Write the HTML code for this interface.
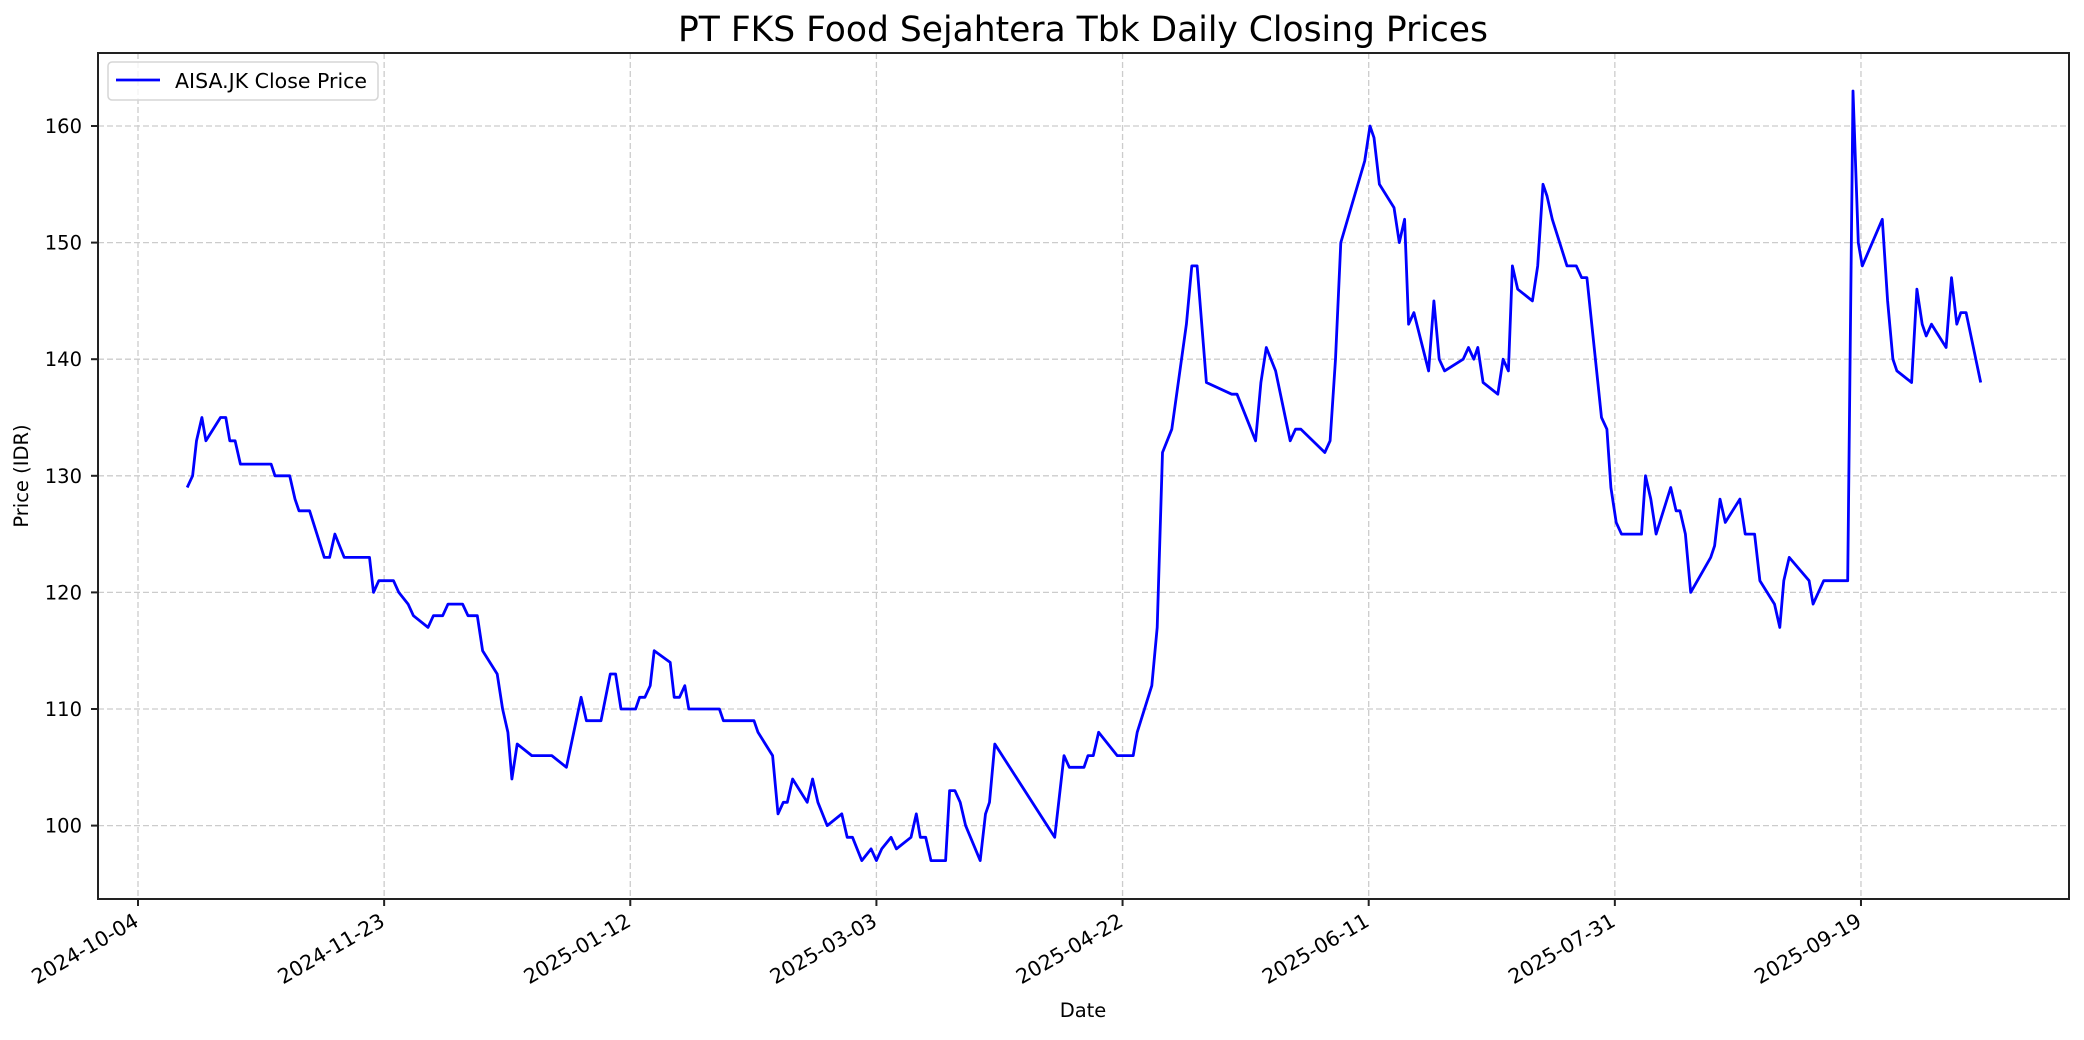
<!DOCTYPE html>
<html><head><meta charset="utf-8"><style>
body{margin:0;background:#fff;}
svg text{font-family:"DejaVu Sans","Liberation Sans",sans-serif;fill:#000;}
</style></head><body>
<svg id="s" width="2084" height="1035" xmlns="http://www.w3.org/2000/svg">
<rect width="2084" height="1035" fill="#fff"/>
<g id="grid" stroke="#cccccc" stroke-width="1.3" stroke-dasharray="6,3"></g>
<g id="ticks"></g>
<polyline id="line" fill="none" stroke="#0000ff" stroke-width="2.8" stroke-linejoin="round"/>
<rect x="98" y="53" width="1971" height="846" fill="none" stroke="#222" stroke-width="2"/>
<text x="1083" y="41" font-size="34.5" text-anchor="middle">PT FKS Food Sejahtera Tbk Daily Closing Prices</text>
<text x="1083" y="1017" font-size="19.5" text-anchor="middle">Date</text>
<text x="28" y="476" font-size="19.5" text-anchor="middle" transform="rotate(-90 28 476)">Price (IDR)</text>
<rect x="108" y="62" width="270" height="38" rx="4" fill="#fff" fill-opacity="0.8" stroke="#d5d5d5" stroke-width="1.5"/>
<line x1="116" y1="80" x2="160" y2="80" stroke="#0000ff" stroke-width="2.8"/>
<text x="175" y="88" font-size="20.5">AISA.JK Close Price</text>
</svg>
<script>
var d=[141,129,145,130,148,133,152,135,155,133,166,135,170,135,173,133,177,133,181,131,204,131,207,130,218,130,222,128,225,127,233,127,244,123,248,123,252,125,259,123,278,123,281,120,285,121,296,121,300,120,307,119,311,118,322,117,326,118,333,118,337,119,348,119,352,118,359,118,363,115,374,113,378,110,382,108,385,104,389,107,400,106,415,106,426,105,437,111,441,109,452,109,459,113,463,113,467,110,478,110,481,111,485,111,489,112,492,115,504,114,507,111,511,111,515,112,518,110,541,110,544,109,567,109,570,108,581,106,585,101,589,102,592,102,596,104,607,102,611,104,615,102,622,100,633,101,637,99,641,99,648,97,655,98,659,97,663,98,670,99,674,98,685,99,689,101,692,99,696,99,700,97,711,97,714,103,718,103,722,102,726,100,737,97,741,101,744,102,748,107,793,99,796,102,800,106,804,105,815,105,818,106,822,106,826,108,840,106,852,106,855,108,866,112,870,117,874,132,881,134,892,143,896,148,900,148,907,138,926,137,930,137,944,133,948,138,952,141,959,139,970,133,974,134,978,134,996,132,1000,133,1004,140,1008,150,1026,157,1030,160,1033,159,1037,155,1048,153,1052,150,1056,152,1059,143,1063,144,1074,139,1078,145,1082,140,1086,139,1100,140,1104,141,1108,140,1111,141,1115,138,1126,137,1130,140,1134,139,1137,148,1141,146,1152,145,1156,148,1160,155,1163,154,1167,152,1178,148,1185,148,1189,147,1193,147,1204,135,1208,134,1211,129,1215,126,1219,125,1234,125,1237,130,1241,128,1245,125,1256,129,1260,127,1263,127,1267,125,1271,120,1286,123,1289,124,1293,128,1297,126,1308,128,1312,125,1319,125,1323,121,1334,119,1338,117,1341,121,1345,123,1360,121,1363,119,1371,121,1389,121,1393,163,1397,150,1400,148,1415,152,1419,145,1423,140,1426,139,1437,138,1441,146,1445,143,1448,142,1452,143,1463,141,1467,147,1471,143,1474,144,1478,144,1489,138];
function X(x){return 138+(x-104)*1.3305;}
function Y(p){return 825.6-(p-100)*11.66;}
var pts=[];for(var i=0;i<d.length;i+=2)pts.push(X(d[i]).toFixed(1)+","+Y(d[i+1]).toFixed(1));
document.getElementById("line").setAttribute("points",pts.join(" "));
var ns="http://www.w3.org/2000/svg",g=document.getElementById("grid"),t=document.getElementById("ticks");
function el(p,tag,a,txt){var e=document.createElementNS(ns,tag);for(var k in a)e.setAttribute(k,a[k]);if(txt)e.textContent=txt;p.appendChild(e);}
var dates=["2024-10-04","2024-11-23","2025-01-12","2025-03-03","2025-04-22","2025-06-11","2025-07-31","2025-09-19"];
for(var i=0;i<8;i++){var x=138+i*246.14;
el(g,"line",{x1:x,y1:53,x2:x,y2:899});
el(t,"line",{x1:x,y1:899,x2:x,y2:906,stroke:"#222","stroke-width":2});
el(t,"text",{x:x+2,y:925,"font-size":20.5,"text-anchor":"end",transform:"rotate(-30 "+(x+2)+" 925)"},dates[i]);}
for(var p=100;p<=160;p+=10){var y=Y(p);
el(g,"line",{x1:98,y1:y,x2:2069,y2:y});
el(t,"line",{x1:91,y1:y,x2:98,y2:y,stroke:"#222","stroke-width":2});
el(t,"text",{x:82,y:y+7,"font-size":19.5,"text-anchor":"end"},String(p));}
</script>
</body></html>
